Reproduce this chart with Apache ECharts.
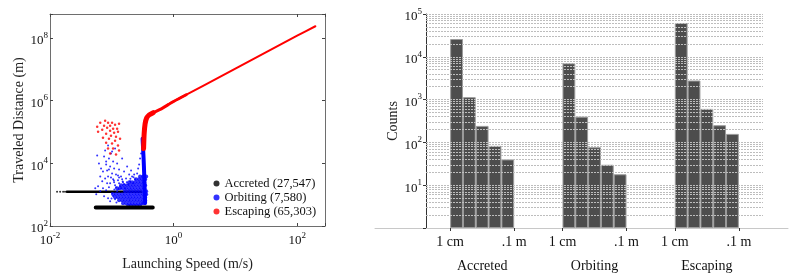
<!DOCTYPE html>
<html>
<head>
<meta charset="utf-8">
<script src="https://cdn.jsdelivr.net/npm/echarts@6/dist/echarts.min.js"></script>
<style>html,body{margin:0;padding:0;background:#fff}#c{width:810px;height:276px}</style>
</head>
<body>
<div id="c"></div>
<script>
// ---------------- data: left panel (speed m/s, distance m) ----------------
const accretedDots = [[0.0130,1230],[0.0146,1230],[0.0163,1230],[0.0175,1230]];
const accretedUpper = [[0.0188,1230],[0.05,1235],[0.12,1225],[0.30,1230]];
const accretedLower = [[0.055,390],[0.15,392],[0.46,390]];
const orbitingSparse = [
 [0.058,17700],[0.062,9860],[0.067,6840],[0.065,3820],[0.070,2660],[0.075,16400],[0.078,25400],
 [0.081,9170],[0.084,5920],[0.087,36700],[0.087,3820],[0.090,14200],[0.094,7930],[0.094,2290],
 [0.097,20400],[0.101,4760],[0.105,11400],[0.105,3070],[0.109,6840],[0.113,29400],[0.113,1980],
 [0.117,4420],[0.122,9860],[0.126,2860],[0.131,6360],[0.136,1840],[0.141,3820],[0.147,14200],
 [0.152,2470],[0.158,5500],[0.164,1600],[0.170,3300],[0.177,7930],[0.184,2130],[0.191,4420],
 [0.198,2660],[0.205,5920],[0.213,3820],[0.221,2290],[0.230,4420],[0.238,3070],[0.257,4760],
 [0.267,6840],[0.277,9170],[0.287,14200],[0.298,20400],[0.060,1840],[0.065,1280],[0.072,1600],
 [0.081,1380],[0.090,1710],[0.101,1110],[0.056,1030],[0.075,890],[0.087,770],[0.054,1600],
 [0.097,3550],[0.109,2470],[0.117,1710],[0.126,4110],[0.131,2290],[0.141,1600],[0.147,3070],
 [0.158,2130],[0.084,2290],[0.078,3300],[0.072,5500],[0.122,1280],[0.105,890],[0.094,619],
 [0.113,716],[0.081,11400],[0.101,23700],[0.090,6360],[0.110,1450],[0.128,1480],[0.099,760],
 [0.119,560],[0.108,2800],[0.131,3500],[0.150,2600],[0.175,2500],[0.200,3200],[0.225,3600]
];
const orbitingCore = [
 [0.287,3820],[0.321,3820],[0.360,3820],
 [0.247,3070],[0.277,3070],[0.310,3070],[0.346,3070],
 [0.191,2470],[0.213,2470],[0.238,2470],[0.267,2470],[0.298,2470],[0.334,2470],
 [0.141,1980],[0.158,1980],[0.177,1980],[0.198,1980],[0.221,1980],[0.247,1980],[0.277,1980],[0.310,1980],[0.346,1980],
 [0.122,1600],[0.136,1600],[0.152,1600],[0.170,1600],[0.191,1600],[0.213,1600],[0.238,1600],[0.267,1600],[0.298,1600],[0.334,1600],
 [0.164,1280],[0.184,1280],[0.205,1280],[0.230,1280],[0.257,1280],[0.287,1280],[0.321,1280],[0.360,1280],
 [0.105,1030],[0.117,1030],[0.131,1030],[0.147,1030],[0.164,1030],[0.184,1030],[0.205,1030],[0.230,1030],[0.257,1030],[0.287,1030],[0.321,1030],[0.360,1030],
 [0.113,828],[0.126,828],[0.141,828],[0.158,828],[0.177,828],[0.198,828],[0.221,828],[0.247,828],[0.277,828],[0.310,828],[0.346,828],
 [0.131,665],[0.147,665],[0.164,665],[0.184,665],[0.205,665],[0.230,665],[0.257,665],[0.287,665],[0.321,665],[0.346,665],
 [0.152,535],[0.170,535],[0.191,535],[0.213,535],[0.238,535],[0.267,535],[0.298,535],[0.321,535],
 [0.184,446],[0.205,446],[0.230,446],[0.257,446],[0.287,446]
];
const orbitingStrip = [[0.346,535],[0.340,1600],[0.334,4760],[0.327,14200],[0.321,29400],[0.315,61000]];
const escapingSparse = [
 [0.058,146000],[0.060,101000],[0.065,195000],[0.070,117000],[0.075,157000],[0.078,226000],
 [0.081,87700],[0.084,136000],[0.087,195000],[0.090,61000],[0.094,109000],[0.094,157000],
 [0.097,75800],[0.101,195000],[0.101,42400],[0.105,126000],[0.109,94400],[0.113,169000],
 [0.113,52700],[0.117,70500],[0.122,126000],[0.126,36700],[0.126,101000],[0.131,182000],
 [0.136,61000],[0.094,20400],[0.087,29400],[0.081,45500],[0.105,29400],[0.117,19000],
 [0.072,65500],[0.131,25400]
];
const escapingKnee = [[0.327,29400],[0.334,87700],[0.346,182000],[0.367,281000],[0.403,350000],[0.467,411000]];
const escapingBend = [[0.467,411000],[0.607,522000],[1.0,935000],[1.6,1.53e6]];
const escapingLine = [[0.8,740000],[1.0,935000],[10,1.04e7],[100,1.17e8],[197,2.34e8]];

const legendNames = ['Accreted (27,547)','Orbiting (7,580)','Escaping (65,303)'];

// ---------------- data: right panel (size histogram counts) ----------------
const categories = ['Accreted','Orbiting','Escaping'];
const accretedCounts = [26040, 1140, 243, 83, 40];
const orbitingCounts = [7050, 400, 77, 30, 18];
const escapingCounts = [61500, 2790, 607, 252, 158];
const sizeTickValues = [0.215, 0.785, 1.215, 1.785, 2.215, 2.785];
const sizeTickLabels = ['1 cm', '.1 m'];
const gridValues = [2,3,4,5,6,7,8,9,10,20,30,40,50,60,70,80,90,100,200,300,400,500,600,700,800,900,
 1000,2000,3000,4000,5000,6000,7000,8000,9000,10000,20000,30000,40000,50000,60000,70000,80000,90000,100000];

// ---------------- chart ----------------
const FONT = 'Liberation Serif';
const powRich = {
  b: {fontFamily: FONT, fontSize: 13, color: '#111', lineHeight: 14, padding: [6,0,0,0]},
  s: {fontFamily: FONT, fontSize: 9, color: '#111', lineHeight: 10, verticalAlign: 'top'}
};
function powFmt(v) {
  const l = Math.log10(v);
  const e = Math.round(l);
  if (Math.abs(l - e) > 0.02) return '';
  return '{b|10}{s|' + e + '}';
}
const boxLine = {show: true, onZero: false, lineStyle: {color: '#6e6e6e', width: 1}};
const inTick = {show: true, inside: true, length: 3, lineStyle: {color: '#444'}};

const colA = '#000000', colO = '#0000ff', colE = '#ff0000';

const barSeries = [0,1,2,3,4].map(i => ({
  type: 'bar', xAxisIndex: 2, yAxisIndex: 2,
  data: [accretedCounts[i], orbitingCounts[i], escapingCounts[i]],
  barGap: '0%', barCategoryGap: '43%',
  itemStyle: {color: '#4d4d4d', borderColor: '#9a9a9a', borderWidth: 1},
  z: 3, silent: true
}));

function lineSeries(name, data, color, width, z) {
  return {name: name, type: 'line', xAxisIndex: 0, yAxisIndex: 0, data: data, symbol: 'none',
    smooth: 0.25, lineStyle: {color: color, width: width, cap: 'round', join: 'round'},
    itemStyle: {color: color}, z: z, silent: true};
}

const option = {
  animation: false,
  grid: [
    {left: 50, right: 485, top: 14, bottom: 48},
    {left: 426, right: 47, top: 14, bottom: 48},
    {left: 375, right: 22, top: 14, bottom: 48}
  ],
  legend: {
    data: legendNames.map(n => ({name: n, icon: 'circle'})),
    orient: 'vertical', left: 208.5, top: 172, itemWidth: 6, itemHeight: 6, itemGap: 1,
    textStyle: {fontFamily: FONT, fontSize: 12.5, color: '#111', lineHeight: 13},
    selectedMode: false
  },
  xAxis: [
    {gridIndex: 0, type: 'log', logBase: 100, min: 0.01, max: 282, position: 'bottom',
     axisLine: boxLine, axisTick: inTick, splitLine: {show: false},
     axisLabel: {formatter: powFmt, rich: powRich, margin: 5},
     name: 'Launching Speed (m/s)', nameLocation: 'middle', nameGap: 31,
     nameTextStyle: {fontFamily: FONT, fontSize: 14, color: '#222'}},
    {gridIndex: 0, type: 'log', logBase: 100, min: 0.01, max: 282, position: 'top',
     axisLine: boxLine, axisTick: inTick, splitLine: {show: false}, axisLabel: {show: false}},
    {gridIndex: 1, type: 'category', data: categories, position: 'bottom',
     axisLine: {show: false}, axisTick: {show: false}, splitLine: {show: false},
     axisLabel: {fontFamily: FONT, fontSize: 14, color: '#111', margin: 31, lineHeight: 14}},
    {gridIndex: 1, type: 'value', min: 0, max: 3, position: 'bottom',
     axisLine: {show: false}, splitLine: {show: false},
     axisTick: {show: true, customValues: sizeTickValues, length: 3, lineStyle: {color: '#333'}},
     axisLabel: {customValues: sizeTickValues, margin: 7, fontFamily: FONT, fontSize: 14, color: '#111',
       formatter: v => (v - Math.floor(v) < 0.5 ? sizeTickLabels[0] : sizeTickLabels[1])}},
    {gridIndex: 2, type: 'value', min: 0, max: 1, position: 'bottom',
     axisLine: {show: true, onZero: false, lineStyle: {color: '#c8c8c8', width: 1}},
     axisTick: {show: false}, axisLabel: {show: false}, splitLine: {show: false}}
  ],
  yAxis: [
    {gridIndex: 0, type: 'log', logBase: 100, min: 100, max: 5.75e8, position: 'left',
     axisLine: boxLine, axisTick: inTick, splitLine: {show: false},
     axisLabel: {formatter: powFmt, rich: powRich, margin: 2},
     name: 'Traveled Distance (m)', nameLocation: 'middle', nameGap: 24, nameRotate: 90,
     nameTextStyle: {fontFamily: FONT, fontSize: 14, color: '#222'}},
    {gridIndex: 0, type: 'log', logBase: 100, min: 100, max: 5.75e8, position: 'right',
     axisLine: boxLine, axisTick: inTick, splitLine: {show: false}, axisLabel: {show: false}},
    {gridIndex: 1, type: 'log', logBase: 10, min: 1, max: 100000, position: 'left',
     axisLine: {show: true, onZero: false, lineStyle: {color: '#333', width: 1}},
     axisTick: {show: true, length: 3, lineStyle: {color: '#333'}}, splitLine: {show: false},
     axisLabel: {formatter: v => (v < 5 ? '' : powFmt(v)), rich: powRich, margin: 4},
     name: 'Counts', nameLocation: 'middle', nameGap: 26, nameRotate: 90,
     nameTextStyle: {fontFamily: FONT, fontSize: 14, color: '#222'}},
    {gridIndex: 2, type: 'value', show: false, min: 0, max: 1}
  ],
  series: [
    {name: legendNames[0], type: 'scatter', xAxisIndex: 0, yAxisIndex: 0, data: accretedDots,
     symbolSize: 2, itemStyle: {color: colA}, z: 2, silent: true},
    lineSeries(legendNames[0], accretedUpper, colA, 2.5, 2),
    {name: legendNames[1], type: 'scatter', xAxisIndex: 0, yAxisIndex: 0, data: orbitingSparse,
     symbolSize: 2, itemStyle: {color: colO}, z: 3, silent: true},
    {name: legendNames[1], type: 'scatter', xAxisIndex: 0, yAxisIndex: 0, data: orbitingCore,
     symbolSize: 4, itemStyle: {color: colO}, z: 3, silent: true},
    lineSeries(legendNames[1], orbitingStrip, colO, 4, 3),
    lineSeries(legendNames[0], accretedLower, colA, 4, 4),
    {name: legendNames[2], type: 'scatter', xAxisIndex: 0, yAxisIndex: 0, data: escapingSparse,
     symbolSize: 2.5, itemStyle: {color: colE}, z: 5, silent: true},
    lineSeries(legendNames[2], escapingKnee, colE, 5, 5),
    lineSeries(legendNames[2], escapingBend, colE, 3, 5),
    lineSeries(legendNames[2], escapingLine, colE, 2, 5),
    {type: 'line', xAxisIndex: 2, yAxisIndex: 2, data: ['-','-','-'], symbol: 'none', z: 1, silent: true,
     markLine: {silent: true, symbol: ['none','none'], label: {show: false}, animation: false,
       lineStyle: {color: '#bdbdbd', type: [2,1], width: 1},
       data: gridValues.map(v => ({yAxis: v}))}},
    ...barSeries
  ]
};
const chart = echarts.init(document.getElementById('c'), null, {renderer: 'canvas'});
chart.setOption(option);
</script>
</body>
</html>
